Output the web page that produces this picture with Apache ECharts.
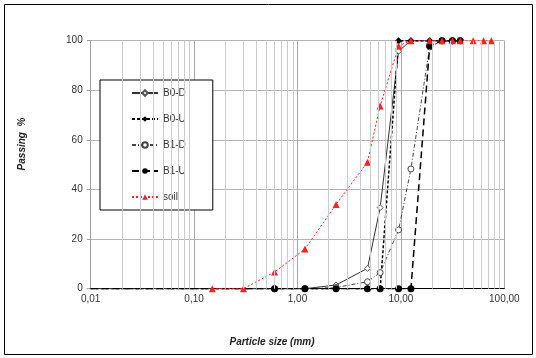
<!DOCTYPE html>
<html>
<head>
<meta charset="utf-8">
<script src="https://cdn.jsdelivr.net/npm/echarts@6/dist/echarts.min.js"></script>
<style>
  html, body { margin: 0; padding: 0; background: #fff; }
  #chart { width: 536px; height: 358px; }
</style>
</head>
<body>
<div id="chart"></div>
<script>
// sieve sizes (mm); the first point sits on the axis start, drawn without a marker
const sizesB = [0.01, 0.6, 1.18, 2.36, 4.75, 6.3, 9.5, 12.5, 19, 25, 31.5, 37.5];
const b0d = [0, 0, 0, 1.5, 8.2, 32.7, 95.8, 100, 100, 100, 100, 100];
const b0u = [0, 0, 0, 0, 0, 0, 100, 100, 100, 100, 100, 100];
const b1d = [0, 0, 0, 0.5, 2.8, 6.5, 23.7, 48.3, 97.5, 100, 100, 100];
const b1u = [0, 0, 0, 0, 0, 0, 0, 0, 98, 100, 100, 100];

const soilSizes = [0.15, 0.3, 0.6, 1.18, 2.36, 4.75, 6.3, 9.5, 12.5, 19, 25, 31.5, 37.5, 50, 63, 75];
const soil = [0, 0, 6.7, 16, 34, 51, 73.7, 97.9, 100, 100, 100, 100, 100, 100, 100, 100];

const legendNames = ["B0-D", "B0-U", "B1-D", "B1-U", "soil"];

// minor vertical grid lines (2..9 in each decade)
const minorGrid = [];
[0.01, 0.1, 1, 10].forEach((d) => {
  for (let k = 2; k <= 9; k++) minorGrid.push(+(d * k).toFixed(4));
});

const pair = (xs, ys) =>
  xs.map((x, i) => (i === 0 ? { value: [x, ys[i]], symbol: "none" } : [x, ys[i]]));
const fontFamily = "'Liberation Sans', Arial, sans-serif";

const chart = echarts.init(document.getElementById("chart"), null, { renderer: "canvas" });

const option = {
  animation: false,
  grid: { left: 90.7, right: 31.7, top: 40.7, bottom: 69.3 },
  legend: {
    data: legendNames,
    orient: "vertical",
    left: 100,
    top: 80,
    padding: [7, 27, 7, 31],
    itemGap: 14,
    itemWidth: 26,
    itemHeight: 7,
    backgroundColor: "#fff",
    borderColor: "#000",
    borderWidth: 1,
    selectedMode: false,
    textStyle: { fontFamily, fontSize: 10, color: "#333", lineHeight: 12 },
  },
  xAxis: {
    type: "log",
    logBase: 10,
    min: 0.01,
    max: 100,
    axisLine: { lineStyle: { color: "#000", width: 1 } },
    axisTick: { show: false },
    axisLabel: {
      fontFamily,
      fontSize: 10,
      color: "#333",
      margin: 6,
      formatter: (v) => Number(v).toFixed(2).replace(".", ","),
    },
    splitLine: { show: true, lineStyle: { color: "#a8a8a8", width: 1 } },
  },
  yAxis: {
    type: "value",
    min: 0,
    max: 100,
    interval: 20,
    axisLine: { show: true, lineStyle: { color: "#a0a0a0" } },
    axisTick: { show: true, length: 4, lineStyle: { color: "#a0a0a0" } },
    axisLabel: { fontFamily, fontSize: 10, color: "#333", margin: 8 },
    splitLine: { show: true, lineStyle: { color: "#b4b4b4", width: 1 } },
  },
  graphic: [
    {
      type: "rect",
      shape: { x: 4.5, y: 4.5, width: 528, height: 350 },
      style: { fill: "none", stroke: "#000", lineWidth: 1 },
      silent: true,
      z: -10,
    },
    {
      type: "text",
      x: 22,
      y: 144,
      rotation: Math.PI / 2,
      style: {
        text: "Passing  %",
        fontFamily,
        fontSize: 10,
        fontWeight: "bold",
        fontStyle: "italic",
        fill: "#222",
        align: "center",
        verticalAlign: "middle",
      },
    },
    {
      type: "text",
      x: 272,
      y: 342,
      style: {
        text: "Particle size (mm)",
        fontFamily,
        fontSize: 10,
        fontWeight: "bold",
        fontStyle: "italic",
        fill: "#222",
        align: "center",
        verticalAlign: "middle",
      },
    },
  ],
  series: [
    {
      name: "grid",
      type: "line",
      data: [],
      z: 1,
      silent: true,
      markLine: {
        silent: true,
        symbol: ["none", "none"],
        label: { show: false },
        lineStyle: { color: "#cccccc", type: "solid", width: 1 },
        data: minorGrid.map((v) => ({ xAxis: v })),
      },
    },
    {
      name: "B0-D",
      type: "line",
      data: pair(sizesB, b0d),
      symbol: "diamond",
      symbolSize: 6,
      lineStyle: { color: "#333", width: 1, type: "solid" },
      itemStyle: { color: "#fff", borderColor: "#555", borderWidth: 1 },
    },
    {
      name: "B0-U",
      type: "line",
      data: pair(sizesB, b0u),
      symbol: "diamond",
      symbolSize: 7,
      lineStyle: { color: "#000", width: 1.5, type: [3, 2] },
      itemStyle: { color: "#000" },
    },
    {
      name: "B1-D",
      type: "line",
      data: pair(sizesB, b1d),
      symbol: "circle",
      symbolSize: 6,
      lineStyle: { color: "#444", width: 1, type: [4, 2, 1, 2] },
      itemStyle: { color: "#fff", borderColor: "#444", borderWidth: 1 },
    },
    {
      name: "B1-U",
      type: "line",
      data: pair(sizesB, b1u),
      symbol: "circle",
      symbolSize: 7,
      lineStyle: { color: "#000", width: 1.5, type: [7, 4] },
      itemStyle: { color: "#000" },
    },
    {
      name: "soil",
      type: "line",
      data: soilSizes.map((x, i) => [x, soil[i]]),
      symbol: "triangle",
      symbolSize: 7,
      lineStyle: { color: "#ff2020", width: 1, type: [2, 2] },
      itemStyle: { color: "#ff2020" },
    },
  ],
};

chart.setOption(option);
</script>
</body>
</html>
